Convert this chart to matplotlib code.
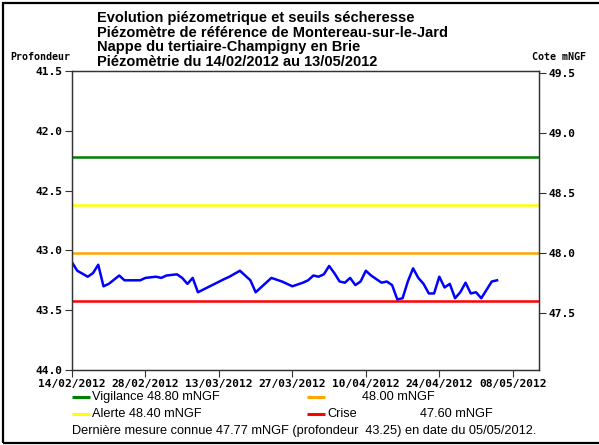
import datetime as dt
import matplotlib
matplotlib.use('Agg')
import matplotlib.pyplot as plt
import matplotlib.dates as mdates
from matplotlib.lines import Line2D
from matplotlib.patches import Rectangle

# ------------------------------------------------------------
# Données
# ------------------------------------------------------------
DEBUT = dt.date(2012, 2, 14)
FIN = dt.date(2012, 5, 13)
REPERE = 91.02  # cote = REPERE - profondeur

jours = [0, 1, 3, 4, 5, 6, 7, 9, 10, 13, 14, 16, 17, 18, 20, 21, 22, 23, 24,
         29, 30, 32, 34, 35, 38, 40, 42, 44, 45, 46, 47, 48, 49, 50, 51, 52,
         53, 54, 55, 56, 57, 59, 60, 61, 62, 63, 64, 65, 66, 67, 68, 69, 70,
         71, 72, 73, 74, 75, 76, 77, 78, 79, 80, 81]
profondeur = [43.10, 43.17, 43.22, 43.19, 43.12, 43.30, 43.28, 43.21, 43.25,
              43.25, 43.23, 43.22, 43.23, 43.21, 43.20, 43.23, 43.28, 43.23,
              43.35, 43.24, 43.22, 43.17, 43.25, 43.35, 43.23, 43.26, 43.30,
              43.27, 43.25, 43.21, 43.22, 43.20, 43.13, 43.19, 43.26, 43.27,
              43.23, 43.29, 43.26, 43.17, 43.21, 43.27, 43.26, 43.29, 43.41,
              43.40, 43.26, 43.15, 43.23, 43.28, 43.36, 43.36, 43.22, 43.31,
              43.28, 43.40, 43.35, 43.27, 43.36, 43.35, 43.40, 43.33, 43.26,
              43.25]
dates = [DEBUT + dt.timedelta(days=j) for j in jours]

seuils_nom = ['Vigilance', 'Alerte', '', 'Crise']
seuils_cote = [48.80, 48.40, 48.00, 47.60]
seuils_couleur = ['#008000', '#ffff00', '#ffa500', '#ff0000']

titre = ['Evolution piézometrique et seuils sécheresse',
         'Piézomètre de référence de Montereau-sur-le-Jard',
         'Nappe du tertiaire-Champigny en Brie',
         'Piézomètrie du 14/02/2012 au 13/05/2012']

yticks_gauche = [41.5, 42.0, 42.5, 43.0, 43.5, 44.0]
yticks_droite = [47.5, 48.0, 48.5, 49.0, 49.5]

derniere = 'Dernière mesure connue 47.77 mNGF (profondeur  43.25) en date du 05/05/2012.'

# ------------------------------------------------------------
# Figure
# ------------------------------------------------------------
W, H = 599, 445
MONO = dict(family='DejaVu Sans Mono', fontweight='bold', fontsize=8.1)
MONO_PETIT = dict(family='DejaVu Sans Mono', fontweight='bold', fontsize=7.2)
SANS = 'Liberation Sans'
FS = 9.2

fig = plt.figure(figsize=(W / 100, H / 100), dpi=100)
ax = fig.add_axes([72 / W, 1 - 370 / H, (539 - 72) / W, (370 - 71) / H])

for nom, cote, c in zip(seuils_nom, seuils_cote, seuils_couleur):
    ax.axhline(REPERE - cote, color=c, linewidth=1.8, zorder=2)
ax.plot(dates, profondeur, color='#0000ff', linewidth=1.8, zorder=3)

ax.set_ylim(44.0, 41.5)
ax.set_yticks(yticks_gauche)
ax.set_yticklabels([f'{v:.1f}' for v in yticks_gauche], **MONO)
ax.set_xlim(DEBUT, FIN)
ax.set_xticks([DEBUT + dt.timedelta(days=14 * k) for k in range(7)])
ax.xaxis.set_major_formatter(mdates.DateFormatter('%d/%m/%Y'))
for lab in ax.get_xticklabels():
    lab.set(**MONO)
ax.tick_params(direction='out', length=5, width=0.8, color='#333333', pad=1.5)

ax2 = ax.twinx()
ax2.set_ylim(REPERE - 44.0, REPERE - 41.5)
ax2.set_yticks(yticks_droite)
ax2.set_yticklabels([f'{v:.1f}' for v in yticks_droite], **MONO)
ax2.tick_params(direction='out', length=5, width=0.8, color='#333333', pad=1.5)

for a in (ax, ax2):
    for s in a.spines.values():
        s.set_color('#333333')
        s.set_linewidth(0.9)

# Titre et libellés d'axes
for i, ligne in enumerate(titre):
    fig.text(97 / W, 1 - (18 + 14.7 * i) / H, ligne, family=SANS,
             fontweight='bold', fontsize=10.5, va='center', ha='left')
fig.text(10 / W, 1 - 57 / H, 'Profondeur', ha='left', va='center', **MONO_PETIT)
fig.text(586 / W, 1 - 57 / H, 'Cote mNGF', ha='right', va='center', **MONO_PETIT)

# Légende des seuils
pos = [(72, 397), (72, 414), (307, 397), (307, 414)]
for (x, y), nom, cote, c in zip(pos, seuils_nom, seuils_cote, seuils_couleur):
    fig.add_artist(Line2D([x / W, (x + 18) / W], [1 - y / H, 1 - y / H],
                          color=c, linewidth=2.2, solid_capstyle='butt',
                          transform=fig.transFigure))
    if x < 200:
        fig.text((x + 19.5) / W, 1 - y / H, f'{nom} {cote:.2f} mNGF',
                 family=SANS, fontsize=FS, va='center')
    else:
        if nom:
            fig.text((x + 20.5) / W, 1 - y / H, nom, family=SANS,
                     fontsize=FS, va='center')
            fig.text(420 / W, 1 - y / H, f'{cote:.2f} mNGF', family=SANS,
                     fontsize=FS, va='center')
        else:
            fig.text(362 / W, 1 - y / H, f'{cote:.2f} mNGF', family=SANS,
                     fontsize=FS, va='center')
fig.text(72 / W, 1 - 431 / H, derniere, family=SANS, fontsize=FS, va='center')

# Cadre
fig.add_artist(Rectangle((3 / W, 1 - 442.5 / H), 1.2, (442.5 - 3) / H,
                         fill=False, edgecolor='black', linewidth=1.6,
                         transform=fig.transFigure))

plt.savefig('out.png', dpi=100)
